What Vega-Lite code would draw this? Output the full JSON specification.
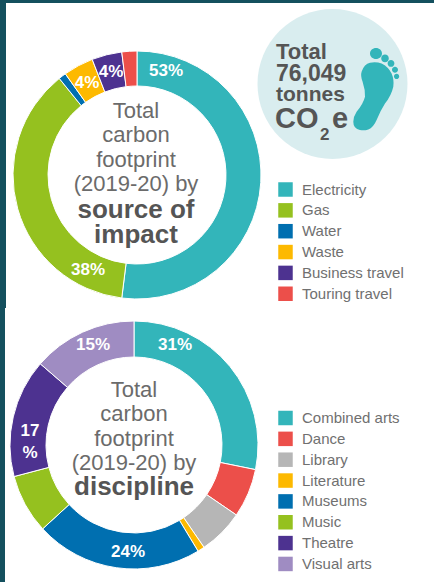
{
  "$schema": "https://vega.github.io/schema/vega-lite/v6.json",
  "autosize": {"type": "fit", "contains": "padding"},
  "width": 434,
  "height": 582,
  "padding": 0,
  "background": "white",
  "config": {"view": {"stroke": null}, "text": {"font": "Liberation Sans"}},
  "datasets": {
    "impact": [
      {"panel": "source", "source": "Electricity", "rank": 1, "share": 53, "label": "53%"},
      {"panel": "source", "source": "Gas", "rank": 2, "share": 38, "label": "38%"},
      {"panel": "source", "source": "Water", "rank": 3, "share": 1},
      {"panel": "source", "source": "Waste", "rank": 4, "share": 4, "label": "4%"},
      {"panel": "source", "source": "Business travel", "rank": 5, "share": 4, "label": "4%"},
      {"panel": "source", "source": "Touring travel", "rank": 6, "share": 2}
    ],
    "discipline": [
      {"panel": "discipline", "discipline": "Combined arts", "rank": 1, "share": 31, "label": "31%"},
      {"panel": "discipline", "discipline": "Dance", "rank": 2, "share": 7},
      {"panel": "discipline", "discipline": "Library", "rank": 3, "share": 6.5},
      {"panel": "discipline", "discipline": "Literature", "rank": 4, "share": 1},
      {"panel": "discipline", "discipline": "Museums", "rank": 5, "share": 24, "label": "24%"},
      {"panel": "discipline", "discipline": "Music", "rank": 6, "share": 8.5},
      {"panel": "discipline", "discipline": "Theatre", "rank": 7, "share": 17, "label": ["17", "%"]},
      {"panel": "discipline", "discipline": "Visual arts", "rank": 8, "share": 15, "label": "15%"}
    ]
  },
  "layer": [
    {
      "data": {"values": [{"edge": "top"}]},
      "mark": {"type": "rect", "x": 0, "x2": 434, "y": 0, "y2": 3, "fill": "#14505e"}
    },
    {
      "data": {"values": [{"edge": "left"}]},
      "mark": {"type": "rect", "x": 0, "x2": 6, "y": 0, "y2": 308, "fill": "#14505e"}
    },
    {
      "data": {"values": [{"edge": "left"}]},
      "mark": {"type": "rect", "x": 0, "x2": 5, "y": 308, "y2": 582, "fill": "#14505e"}
    },
    {
      "data": {"name": "impact"},
      "mark": {"type": "arc", "innerRadius": 89, "outerRadius": 124, "stroke": "white", "strokeWidth": 1},
      "encoding": {
        "x": {"field": "panel", "type": "nominal", "axis": null, "scale": {"type": "point", "padding": 0, "domain": ["discipline", "source"], "range": [134, 137]}},
        "y": {"field": "panel", "type": "nominal", "axis": null, "scale": {"type": "point", "padding": 0, "domain": ["source", "discipline"], "range": [175, 445]}},
        "theta": {"field": "share", "type": "quantitative", "stack": "normalize"},
        "order": {"field": "rank", "type": "quantitative"},
        "color": {
          "field": "source",
          "type": "nominal",
          "scale": {
            "domain": ["Electricity", "Gas", "Water", "Waste", "Business travel", "Touring travel"],
            "range": ["#33b5ba", "#95c11f", "#006fb0", "#fdb900", "#4d3290", "#ec4f4a"]
          },
          "legend": {"orient": "none", "legendX": 278, "legendY": 182, "title": null, "symbolType": "square", "symbolSize": 210, "symbolStrokeWidth": 0, "labelFontSize": 15, "labelFont": "Liberation Sans", "labelColor": "#707070", "labelOffset": 9, "rowPadding": 4.85, "padding": 0}
        }
      }
    },
    {
      "data": {"name": "discipline"},
      "mark": {"type": "arc", "innerRadius": 88, "outerRadius": 124, "stroke": "white", "strokeWidth": 1},
      "encoding": {
        "x": {"field": "panel", "type": "nominal", "axis": null},
        "y": {"field": "panel", "type": "nominal", "axis": null},
        "theta": {"field": "share", "type": "quantitative", "stack": "normalize"},
        "order": {"field": "rank", "type": "quantitative"},
        "color": {
          "field": "discipline",
          "type": "nominal",
          "scale": {
            "domain": ["Combined arts", "Dance", "Library", "Literature", "Museums", "Music", "Theatre", "Visual arts"],
            "range": ["#33b5ba", "#ec4f4a", "#b6b6b6", "#fdb900", "#006fb0", "#95c11f", "#4d3290", "#9f8cc2"]
          },
          "legend": {"orient": "none", "legendX": 278, "legendY": 410.5, "title": null, "symbolType": "square", "symbolSize": 210, "symbolStrokeWidth": 0, "labelFontSize": 15, "labelFont": "Liberation Sans", "labelColor": "#707070", "labelOffset": 9, "rowPadding": 4.85, "padding": 0}
        }
      }
    },
    {
      "data": {"values": [{"lines": ["Total", "carbon", "footprint", "(2019-20) by"]}]},
      "mark": {"type": "text", "x": 136, "y": 118, "align": "center", "baseline": "alphabetic", "fontSize": 22, "lineHeight": 24.3, "fill": "#6b6b6b"},
      "encoding": {"text": {"field": "lines"}}
    },
    {
      "data": {"values": [{"lines": ["source of", "impact"]}]},
      "mark": {"type": "text", "x": 136, "y": 218, "align": "center", "baseline": "alphabetic", "fontWeight": "bold", "fontSize": 26, "lineHeight": 25, "fill": "#555555"},
      "encoding": {"text": {"field": "lines"}}
    },
    {
      "data": {"values": [{"lines": ["Total", "carbon", "footprint", "(2019-20) by"]}]},
      "mark": {"type": "text", "x": 134, "y": 397, "align": "center", "baseline": "alphabetic", "fontSize": 22, "lineHeight": 24.3, "fill": "#6b6b6b"},
      "encoding": {"text": {"field": "lines"}}
    },
    {
      "data": {"values": [{"lines": "discipline"}]},
      "mark": {"type": "text", "x": 134, "y": 495, "align": "center", "baseline": "alphabetic", "fontWeight": "bold", "fontSize": 26, "fill": "#555555"},
      "encoding": {"text": {"field": "lines"}}
    },
    {
      "data": {"name": "impact"},
      "transform": [{"filter": "datum.source === 'Electricity'"}],
      "mark": {"type": "text", "x": 166, "y": 71, "fontWeight": "bold", "fontSize": 17, "fill": "white"},
      "encoding": {"text": {"field": "label"}}
    },
    {
      "data": {"name": "impact"},
      "transform": [{"filter": "datum.source === 'Gas'"}],
      "mark": {"type": "text", "x": 88, "y": 270, "fontWeight": "bold", "fontSize": 17, "fill": "white"},
      "encoding": {"text": {"field": "label"}}
    },
    {
      "data": {"name": "impact"},
      "transform": [{"filter": "datum.source === 'Waste'"}],
      "mark": {"type": "text", "x": 87, "y": 83, "fontWeight": "bold", "fontSize": 17, "fill": "white"},
      "encoding": {"text": {"field": "label"}}
    },
    {
      "data": {"name": "impact"},
      "transform": [{"filter": "datum.source === 'Business travel'"}],
      "mark": {"type": "text", "x": 111, "y": 72, "fontWeight": "bold", "fontSize": 17, "fill": "white"},
      "encoding": {"text": {"field": "label"}}
    },
    {
      "data": {"name": "discipline"},
      "transform": [{"filter": "datum.discipline === 'Combined arts'"}],
      "mark": {"type": "text", "x": 175, "y": 345, "fontWeight": "bold", "fontSize": 17, "fill": "white"},
      "encoding": {"text": {"field": "label"}}
    },
    {
      "data": {"name": "discipline"},
      "transform": [{"filter": "datum.discipline === 'Museums'"}],
      "mark": {"type": "text", "x": 128, "y": 552, "fontWeight": "bold", "fontSize": 17, "fill": "white"},
      "encoding": {"text": {"field": "label"}}
    },
    {
      "data": {"name": "discipline"},
      "transform": [{"filter": "datum.discipline === 'Theatre'"}],
      "mark": {"type": "text", "x": 30, "y": 431, "fontWeight": "bold", "fontSize": 17, "lineHeight": 22, "fill": "white"},
      "encoding": {"text": {"field": "label"}}
    },
    {
      "data": {"name": "discipline"},
      "transform": [{"filter": "datum.discipline === 'Visual arts'"}],
      "mark": {"type": "text", "x": 93, "y": 345, "fontWeight": "bold", "fontSize": 17, "fill": "white"},
      "encoding": {"text": {"field": "label"}}
    },
    {
      "data": {"values": [{"badge": "total"}]},
      "mark": {"type": "point", "shape": "circle", "filled": true, "opacity": 1, "x": 332.5, "y": 84, "size": 22500, "fill": "#d9edef"}
    },
    {
      "data": {"values": [{"badge": "foot"}]},
      "mark": {
        "type": "point",
        "filled": true,
        "opacity": 1,
        "x": 373.3,
        "y": 91.7,
        "size": 4,
        "fill": "#33b5ba",
        "shape": "M-13.3,38.3 Q-20,37 -20,30 Q-20,25 -16.7,20 Q-10,12 -8.3,5 Q-8,-2 -10.7,-10 Q-13,-16 -11.7,-20 Q-9,-28 -3.3,-29 Q3,-30 8.3,-28.3 Q15,-25 18.3,-18.3 Q21,-12 20,-5 Q18,4 11.7,11.7 Q7,19 3.3,28.3 Q0,36 -5,37.7 Q-9,39 -13.3,38.3 Z M-3.3,-38.3 A6,5.5 0 1 1 8.7,-38.3 A6,5.5 0 1 1 -3.3,-38.3 Z M7.9,-33.3 A3.8,3.8 0 1 1 15.5,-33.3 A3.8,3.8 0 1 1 7.9,-33.3 Z M14.3,-28.3 A3.4,3.4 0 1 1 21.1,-28.3 A3.4,3.4 0 1 1 14.3,-28.3 Z M18.7,-22 A3,3 0 1 1 24.7,-22 A3,3 0 1 1 18.7,-22 Z M20.7,-15.3 A2.6,2.6 0 1 1 25.9,-15.3 A2.6,2.6 0 1 1 20.7,-15.3 Z"
      }
    },
    {
      "data": {"values": [{"t": "Total"}]},
      "mark": {"type": "text", "x": 276, "y": 59, "align": "left", "baseline": "alphabetic", "fontWeight": "bold", "fontSize": 22, "fill": "#555555"},
      "encoding": {"text": {"field": "t"}}
    },
    {
      "data": {"values": [{"t": "76,049"}]},
      "mark": {"type": "text", "x": 276, "y": 81, "align": "left", "baseline": "alphabetic", "fontWeight": "bold", "fontSize": 23, "fill": "#555555"},
      "encoding": {"text": {"field": "t"}}
    },
    {
      "data": {"values": [{"t": "tonnes"}]},
      "mark": {"type": "text", "x": 276, "y": 101, "align": "left", "baseline": "alphabetic", "fontWeight": "bold", "fontSize": 21, "fill": "#555555"},
      "encoding": {"text": {"field": "t"}}
    },
    {
      "data": {"values": [{"t": "CO"}]},
      "mark": {"type": "text", "x": 275, "y": 128, "align": "left", "baseline": "alphabetic", "fontWeight": "bold", "fontSize": 29, "fill": "#555555"},
      "encoding": {"text": {"field": "t"}}
    },
    {
      "data": {"values": [{"t": "2"}]},
      "mark": {"type": "text", "x": 320, "y": 140, "align": "left", "baseline": "alphabetic", "fontWeight": "bold", "fontSize": 17, "fill": "#555555"},
      "encoding": {"text": {"field": "t"}}
    },
    {
      "data": {"values": [{"t": "e"}]},
      "mark": {"type": "text", "x": 332, "y": 128, "align": "left", "baseline": "alphabetic", "fontWeight": "bold", "fontSize": 29, "fill": "#555555"},
      "encoding": {"text": {"field": "t"}}
    }
  ],
  "resolve": {"scale": {"color": "independent", "theta": "independent"}}
}
